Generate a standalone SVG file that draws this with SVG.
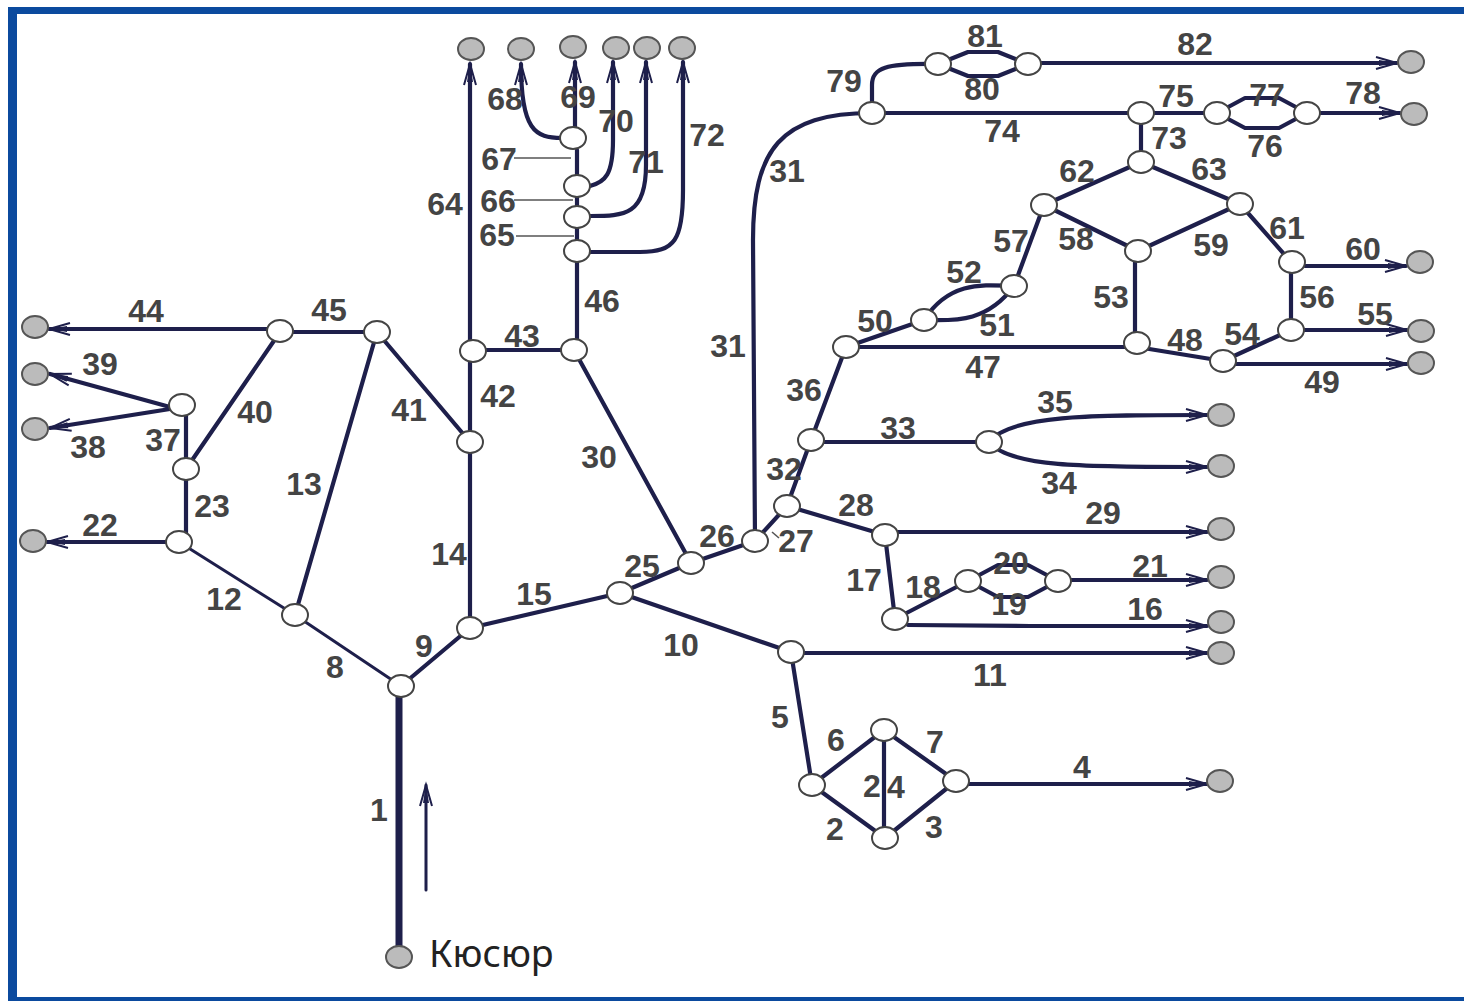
<svg xmlns="http://www.w3.org/2000/svg" width="1464" height="1001" viewBox="0 0 1464 1001">
<style>
.e{fill:none;stroke:#1e1f4b;stroke-width:4.2;stroke-linecap:round;stroke-linejoin:round}
.t{stroke-width:3}
.a{marker-end:url(#arr)}
.thin{fill:none;stroke:#555;stroke-width:1.6}
.w ellipse{fill:#fff;stroke:#444;stroke-width:2}
.g ellipse{fill:#bbb;stroke:#555;stroke-width:2}
.l text{font-family:"Liberation Sans",Arial,sans-serif;font-size:32px;font-weight:700;fill:#444;text-anchor:middle}
</style>
<defs>
<marker id="arr" markerUnits="userSpaceOnUse" markerWidth="30" markerHeight="20" refX="26" refY="10" orient="auto" overflow="visible">
<path d="M5,4 L26,10 L5,16" fill="none" stroke="#1e1f4b" stroke-width="2"/>
<path d="M8,7 L26,10 L8,13 Z" fill="#1e1f4b"/>
</marker>
</defs>
<rect width="1464" height="1001" fill="#fff"/>
<g id="frame" fill="#0b4a9e">
<rect x="8" y="7" width="1456" height="7"/>
<rect x="8" y="7" width="9" height="994"/>
<rect x="8" y="997" width="1456" height="4"/>
</g>
<g id="connectors">
<path class="e" style="stroke-width:7" d="M399,696V946"/>
<path class="e a t" d="M426,890V785"/>
<path class="e t" d="M401,686L295,615L179,542"/>
<path class="e" d="M401,686L470,628L620,593L691,563L755,541"/>
<path class="e" d="M620,593L791,652L812,785L884,730L956,781L885,838L812,785"/>
<path class="e" d="M884,730L884,838"/>
<path class="e a" d="M968,784H1207"/>
<path class="e a" d="M804,653H1207"/>
<path class="e a" d="M908,625L1030,626H1207"/>
<path class="e" d="M885,535L895,619L968,581"/>
<path class="e" d="M968,581L998,565H1028L1058,581M968,581L998,597H1028L1058,581"/>
<path class="e a" d="M1070,580H1207"/>
<path class="e a" d="M898,532H1207"/>
<path class="e" d="M787,506L885,535M755,541L787,506L811,440L846,347"/>
<path class="thin" d="M772,532l7,6"/>
<path class="e" d="M811,442H989"/>
<path class="e a" d="M989,442C1010,415 1090,415 1207,415"/>
<path class="e a" d="M989,442C1010,468 1090,467 1207,467"/>
<path class="e" d="M755,541L753,240C753,150 780,113 872,113H1141"/>
<path class="e" d="M872,113V85C872,68 885,63 938,64"/>
<path class="e" d="M938,64L968,52H998L1028,64M938,64L968,76H998L1028,64"/>
<path class="e a" d="M1040,63H1397"/>
<path class="e" d="M1141,113H1217M1141,113V162"/>
<path class="e" d="M1217,113L1245,98H1279L1307,113M1217,113L1245,128H1279L1307,113"/>
<path class="e a" d="M1320,113H1400"/>
<path class="e" d="M846,347L924,320"/>
<path class="e" d="M924,320C950,320 985,325 1014,286C985,285 950,280 924,320"/>
<path class="e" d="M846,347H1137L1223,361L1291,330V262L1240,204L1141,162L1044,205L1014,286"/>
<path class="e" d="M1044,205L1138,251L1240,204M1135,256V343"/>
<path class="e a" d="M1305,266H1406"/>
<path class="e a" d="M1304,330H1407"/>
<path class="e a" d="M1236,364H1407"/>
<path class="e" d="M691,563L574,350H473M577,340V150"/>
<path class="e" d="M470,628V362"/>
<path class="e a" d="M470,340V64"/>
<path class="e" d="M470,442L377,332H280L186,469V542M377,332L295,615M186,469V405"/>
<path class="e a" d="M280,329H49"/>
<path class="e a" d="M170,407L50,374"/>
<path class="e a" d="M170,409L50,428"/>
<path class="e a" d="M168,542H47"/>
<path class="e a" d="M562,138C535,138 521,130 521,64"/>
<path class="e a" d="M575,127V62"/>
<path class="e a" d="M590,186C605,182 613,175 613,140V62"/>
<path class="e a" d="M590,216C625,216 646,215 646,165V62"/>
<path class="e a" d="M590,252H640C675,252 683,240 683,190V62"/>
<path class="thin" d="M514,158H571M514,200H573M516,236H574"/>
</g>
<g id="white-nodes" class="w">
<g id="n-a1"><ellipse cx="401" cy="686" rx="13" ry="11"/></g>
<g id="n-a2"><ellipse cx="470" cy="628" rx="13" ry="11"/></g>
<g id="n-a3"><ellipse cx="620" cy="593" rx="13" ry="11"/></g>
<g id="n-a4"><ellipse cx="691" cy="563" rx="13" ry="11"/></g>
<g id="n-a5"><ellipse cx="755" cy="541" rx="13" ry="11"/></g>
<g id="n-a6"><ellipse cx="787" cy="506" rx="13" ry="11"/></g>
<g id="n-a7"><ellipse cx="811" cy="440" rx="13" ry="11"/></g>
<g id="n-a8"><ellipse cx="846" cy="347" rx="13" ry="11"/></g>
<g id="n-a9"><ellipse cx="924" cy="320" rx="13" ry="11"/></g>
<g id="n-a10"><ellipse cx="1014" cy="286" rx="13" ry="11"/></g>
<g id="n-a11"><ellipse cx="1137" cy="343" rx="13" ry="11"/></g>
<g id="n-a12"><ellipse cx="1223" cy="361" rx="13" ry="11"/></g>
<g id="n-a13"><ellipse cx="1291" cy="330" rx="13" ry="11"/></g>
<g id="n-a14"><ellipse cx="1292" cy="262" rx="13" ry="11"/></g>
<g id="n-a15"><ellipse cx="1138" cy="251" rx="13" ry="11"/></g>
<g id="n-a16"><ellipse cx="1240" cy="204" rx="13" ry="11"/></g>
<g id="n-a17"><ellipse cx="1141" cy="162" rx="13" ry="11"/></g>
<g id="n-a18"><ellipse cx="1044" cy="205" rx="13" ry="11"/></g>
<g id="n-a19"><ellipse cx="1141" cy="113" rx="13" ry="11"/></g>
<g id="n-a20"><ellipse cx="872" cy="113" rx="13" ry="11"/></g>
<g id="n-a21"><ellipse cx="938" cy="64" rx="13" ry="11"/></g>
<g id="n-a22"><ellipse cx="1028" cy="64" rx="13" ry="11"/></g>
<g id="n-a23"><ellipse cx="1217" cy="113" rx="13" ry="11"/></g>
<g id="n-a24"><ellipse cx="1307" cy="113" rx="13" ry="11"/></g>
<g id="n-a25"><ellipse cx="989" cy="442" rx="13" ry="11"/></g>
<g id="n-a26"><ellipse cx="885" cy="535" rx="13" ry="11"/></g>
<g id="n-a27"><ellipse cx="895" cy="619" rx="13" ry="11"/></g>
<g id="n-a28"><ellipse cx="968" cy="581" rx="13" ry="11"/></g>
<g id="n-a29"><ellipse cx="1058" cy="581" rx="13" ry="11"/></g>
<g id="n-a30"><ellipse cx="791" cy="652" rx="13" ry="11"/></g>
<g id="n-a31"><ellipse cx="812" cy="785" rx="13" ry="11"/></g>
<g id="n-a32"><ellipse cx="884" cy="730" rx="13" ry="11"/></g>
<g id="n-a33"><ellipse cx="885" cy="838" rx="13" ry="11"/></g>
<g id="n-a34"><ellipse cx="956" cy="781" rx="13" ry="11"/></g>
<g id="n-a35"><ellipse cx="574" cy="350" rx="13" ry="11"/></g>
<g id="n-a36"><ellipse cx="577" cy="251" rx="13" ry="11"/></g>
<g id="n-a37"><ellipse cx="577" cy="217" rx="13" ry="11"/></g>
<g id="n-a38"><ellipse cx="577" cy="186" rx="13" ry="11"/></g>
<g id="n-a39"><ellipse cx="573" cy="138" rx="13" ry="11"/></g>
<g id="n-a40"><ellipse cx="473" cy="351" rx="13" ry="11"/></g>
<g id="n-a41"><ellipse cx="470" cy="442" rx="13" ry="11"/></g>
<g id="n-a42"><ellipse cx="377" cy="332" rx="13" ry="11"/></g>
<g id="n-a43"><ellipse cx="280" cy="331" rx="13" ry="11"/></g>
<g id="n-a44"><ellipse cx="295" cy="615" rx="13" ry="11"/></g>
<g id="n-a45"><ellipse cx="179" cy="542" rx="13" ry="11"/></g>
<g id="n-a46"><ellipse cx="186" cy="469" rx="13" ry="11"/></g>
<g id="n-a47"><ellipse cx="182" cy="405" rx="13" ry="11"/></g>
</g>
<g id="grey-nodes" class="g">
<g id="s1"><ellipse cx="471" cy="49" rx="13" ry="11"/></g>
<g id="s2"><ellipse cx="521" cy="49" rx="13" ry="11"/></g>
<g id="s3"><ellipse cx="573" cy="47" rx="13" ry="11"/></g>
<g id="s4"><ellipse cx="616" cy="48" rx="13" ry="11"/></g>
<g id="s5"><ellipse cx="647" cy="48" rx="13" ry="11"/></g>
<g id="s6"><ellipse cx="682" cy="48" rx="13" ry="11"/></g>
<g id="s7"><ellipse cx="1411" cy="62" rx="13" ry="11"/></g>
<g id="s8"><ellipse cx="1414" cy="114" rx="13" ry="11"/></g>
<g id="s9"><ellipse cx="1420" cy="262" rx="13" ry="11"/></g>
<g id="s10"><ellipse cx="1421" cy="331" rx="13" ry="11"/></g>
<g id="s11"><ellipse cx="1421" cy="363" rx="13" ry="11"/></g>
<g id="s12"><ellipse cx="1221" cy="415" rx="13" ry="11"/></g>
<g id="s13"><ellipse cx="1221" cy="466" rx="13" ry="11"/></g>
<g id="s14"><ellipse cx="1221" cy="529" rx="13" ry="11"/></g>
<g id="s15"><ellipse cx="1221" cy="577" rx="13" ry="11"/></g>
<g id="s16"><ellipse cx="1221" cy="622" rx="13" ry="11"/></g>
<g id="s17"><ellipse cx="1221" cy="653" rx="13" ry="11"/></g>
<g id="s18"><ellipse cx="1220" cy="781" rx="13" ry="11"/></g>
<g id="s19"><ellipse cx="35" cy="327" rx="13" ry="11"/></g>
<g id="s20"><ellipse cx="35" cy="374" rx="13" ry="11"/></g>
<g id="s21"><ellipse cx="35" cy="429" rx="13" ry="11"/></g>
<g id="s22"><ellipse cx="33" cy="541" rx="13" ry="11"/></g>
<g id="s23"><ellipse cx="399" cy="957" rx="13" ry="11"/></g>
</g>
<g id="labels" class="l" transform="translate(0,1)">
<text x="379" y="820">1</text><text x="835" y="839">2</text><text x="934" y="837">3</text>
<text x="872" y="796">2</text><text x="896" y="797">4</text>
<text x="1082" y="777">4</text><text x="780" y="727">5</text><text x="836" y="750">6</text><text x="935" y="752">7</text>
<text x="335" y="677">8</text><text x="424" y="656">9</text><text x="681" y="655">10</text><text x="990" y="685">11</text>
<text x="224" y="609">12</text><text x="304" y="494">13</text><text x="449" y="564">14</text><text x="534" y="604">15</text>
<text x="1145" y="619">16</text><text x="864" y="590">17</text><text x="923" y="597">18</text><text x="1009" y="614">19</text>
<text x="1011" y="573">20</text><text x="1150" y="576">21</text><text x="100" y="535">22</text><text x="212" y="516">23</text>
<text x="642" y="576">25</text><text x="717" y="546">26</text><text x="796" y="551">27</text><text x="856" y="515">28</text>
<text x="1103" y="523">29</text><text x="599" y="467">30</text><text x="787" y="181">31</text><text x="728" y="356">31</text>
<text x="784" y="479">32</text><text x="898" y="438">33</text><text x="1059" y="493">34</text><text x="1055" y="412">35</text>
<text x="804" y="400">36</text><text x="163" y="450">37</text><text x="88" y="457">38</text><text x="100" y="374">39</text>
<text x="255" y="422">40</text><text x="409" y="420">41</text><text x="498" y="406">42</text><text x="522" y="346">43</text>
<text x="146" y="321">44</text><text x="329" y="320">45</text><text x="602" y="311">46</text><text x="983" y="377">47</text>
<text x="1185" y="350">48</text><text x="1322" y="392">49</text><text x="875" y="331">50</text><text x="997" y="335">51</text>
<text x="964" y="282">52</text><text x="1111" y="307">53</text><text x="1242" y="344">54</text><text x="1375" y="324">55</text>
<text x="1317" y="307">56</text><text x="1011" y="251">57</text><text x="1076" y="249">58</text><text x="1211" y="255">59</text>
<text x="1363" y="259">60</text><text x="1287" y="238">61</text><text x="1077" y="181">62</text><text x="1209" y="179">63</text>
<text x="445" y="214">64</text><text x="497" y="245">65</text><text x="498" y="211">66</text><text x="499" y="169">67</text>
<text x="505" y="109">68</text><text x="578" y="107">69</text><text x="616" y="131">70</text><text x="646" y="172">71</text>
<text x="707" y="145">72</text><text x="1169" y="148">73</text><text x="1002" y="141">74</text><text x="1176" y="106">75</text>
<text x="1265" y="156">76</text><text x="1267" y="105">77</text><text x="1363" y="103">78</text><text x="844" y="91">79</text>
<text x="982" y="99">80</text><text x="985" y="46">81</text><text x="1195" y="54">82</text>
</g>
<text id="place-label" x="429" y="967" font-family="'Noto Sans','Open Sans',sans-serif" font-size="37.5" fill="#222">Кюсюр</text>
</svg>
